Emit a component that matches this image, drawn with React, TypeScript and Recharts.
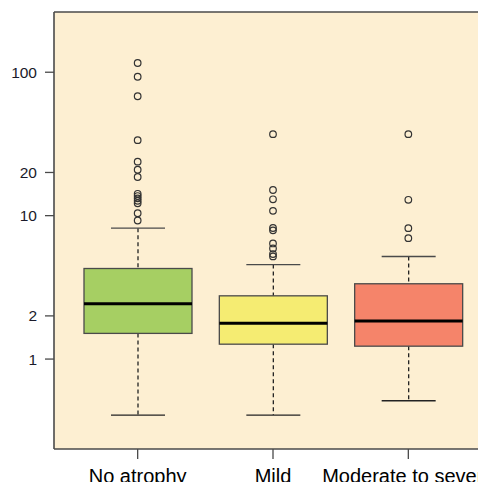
import { ComposedChart, Bar, Scatter, XAxis, YAxis, CartesianGrid, ReferenceLine } from 'recharts';

const categories = ['No atrophy', 'Mild', 'Moderate to severe'];
const whiskerLow = [0.407, 0.407, 0.512];
const quartile1 = [1.51, 1.27, 1.23];
const medians = [2.43, 1.78, 1.84];
const quartile3 = [4.28, 2.76, 3.35];
const whiskerHigh = [8.18, 4.56, 5.19];

const outliersNone = [116, 93, 68, 33.6, 23.8, 20.9, 18.6, 14.2, 13.7, 13.2, 12.7, 12.2, 10.4, 9.25];
const outliersMild = [37, 15.1, 13.0, 10.8, 8.2, 7.9, 6.4, 5.9, 5.4, 5.2];
const outliersSevere = [37, 12.9, 8.18, 6.97];

const yTicks = [1, 2, 10, 20, 100];
const yRange = [0.236, 263];

const boxColors = ['#a6cf63', '#f5ec72', '#f5846a'];
const PANEL = '#fdefd2';
const EDGE = '#4a4a4a';

const lg = (v: number) => Math.log10(v);

const boxRows = categories.map((name, i) => ({
  name,
  range: [lg(whiskerLow[i]), lg(whiskerHigh[i])],
  lo: lg(whiskerLow[i]),
  q1: lg(quartile1[i]),
  med: lg(medians[i]),
  q3: lg(quartile3[i]),
  hi: lg(whiskerHigh[i]),
  fill: boxColors[i],
}));

const outlierGroups = [outliersNone, outliersMild, outliersSevere].map((vals, i) =>
  vals.map(v => ({ name: categories[i], v: lg(v) }))
);

function BoxShape(props: any) {
  const { x, y, width, height, payload } = props;
  const top = Math.min(y, y + height);
  const bottom = Math.max(y, y + height);
  const span = payload.hi - payload.lo;
  const py = (v: number) => bottom - ((v - payload.lo) / span) * (bottom - top);
  const cx = x + width / 2;
  const cap = width / 4;
  return (
    <g>
      <line x1={cx} x2={cx} y1={py(payload.hi)} y2={py(payload.q3)} stroke="#222" strokeWidth={1.3} strokeDasharray="4 3" />
      <line x1={cx} x2={cx} y1={py(payload.q1)} y2={py(payload.lo)} stroke="#222" strokeWidth={1.3} strokeDasharray="4 3" />
      <line x1={cx - cap} x2={cx + cap} y1={py(payload.hi)} y2={py(payload.hi)} stroke={EDGE} strokeWidth={1.3} />
      <line x1={cx - cap} x2={cx + cap} y1={py(payload.lo)} y2={py(payload.lo)} stroke="#222" strokeWidth={1.3} />
      <rect x={x} y={py(payload.q3)} width={width} height={py(payload.q1) - py(payload.q3)} fill={payload.fill} stroke={EDGE} strokeWidth={1.3} />
      <line x1={x} x2={x + width} y1={py(payload.med)} y2={py(payload.med)} stroke="#000" strokeWidth={3} />
    </g>
  );
}

const OutlierDot = (p: any) => (
  <circle cx={p.cx} cy={p.cy} r={3.3} fill="none" stroke="#333" strokeWidth={1.2} />
);

// labels sit low, like the source (descenders are clipped by the frame)
const XTick = (p: any) => (
  <text x={p.x} y={p.y + 21.5} textAnchor="middle" fontSize={20} fill="#000" fontFamily="Liberation Sans, Arial, sans-serif">
    {p.payload.value}
  </text>
);

export default function App() {
  return (
    <div style={{ position: 'absolute', left: 0, top: 0, width: 478, height: 482, overflow: 'hidden', background: '#fff' }}>
      <ComposedChart width={520} height={482} data={boxRows} margin={{ top: 12, right: 28, bottom: 0, left: 0 }}>
        <CartesianGrid fill={PANEL} horizontal={false} vertical={false} stroke="none" />
        <XAxis
          dataKey="name"
          type="category"
          allowDuplicatedCategory={false}
          padding={{ left: 16, right: 16 }}
          height={33}
          tickSize={10}
          tickLine={{ stroke: EDGE, strokeWidth: 1.3 }}
          axisLine={{ stroke: EDGE, strokeWidth: 1.6 }}
          tick={<XTick />}
          interval={0}
        />
        <YAxis
          type="number"
          domain={[lg(yRange[0]), lg(yRange[1])]}
          allowDataOverflow
          ticks={yTicks.map(lg)}
          tickFormatter={(v: number) => String(Math.round(Math.pow(10, v)))}
          width={54}
          tickSize={9}
          tickMargin={8}
          tickLine={{ stroke: EDGE, strokeWidth: 1.3 }}
          axisLine={{ stroke: EDGE, strokeWidth: 1.6 }}
          tick={{ fontSize: 15.5, fill: '#1a1a2a', fontFamily: 'Liberation Sans, Arial, sans-serif' }}
        />
        <ReferenceLine y={lg(yRange[1])} stroke={EDGE} strokeWidth={1.6} />
        <Bar dataKey="range" barSize={108} shape={<BoxShape />} isAnimationActive={false} />
        {outlierGroups.map((g, i) => (
          <Scatter key={i} data={g} dataKey="v" shape={<OutlierDot />} isAnimationActive={false} />
        ))}
      </ComposedChart>
    </div>
  );
}
